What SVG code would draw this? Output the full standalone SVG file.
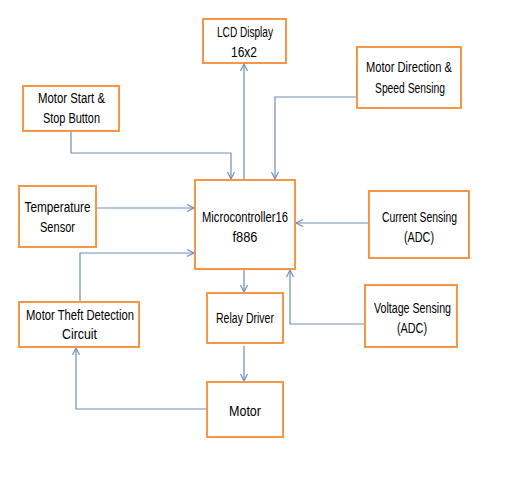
<svg xmlns="http://www.w3.org/2000/svg" width="508" height="477" viewBox="0 0 508 477">
<style>
.box{fill:#fff;stroke:#F79646;stroke-width:2}
.t{font-family:"Liberation Sans",Arial,sans-serif;font-size:14px;fill:#000;text-anchor:middle}
.c{fill:none;stroke:#6C8EBF;stroke-width:1.2}
</style>
<defs>
<marker id="a" markerWidth="10" markerHeight="10" refX="8" refY="4" orient="auto" markerUnits="userSpaceOnUse">
<path d="M1,0.5 L8,4 L1,7.5" fill="none" stroke="#6C8EBF" stroke-width="1.2"/>
</marker>
</defs>
<rect width="508" height="477" fill="#fff"/>
<g id="connectors">
<path class="c" d="M244,180 V64" marker-end="url(#a)"/>
<path class="c" d="M71,131 V153 H231 V179" marker-end="url(#a)"/>
<path class="c" d="M357,97 H275 V179" marker-end="url(#a)"/>
<path class="c" d="M96,208 H194" marker-end="url(#a)"/>
<path class="c" d="M369,223 H296" marker-end="url(#a)"/>
<path class="c" d="M80,302 V253 H194" marker-end="url(#a)"/>
<path class="c" d="M244,269 V292" marker-end="url(#a)"/>
<path class="c" d="M244,346 V381" marker-end="url(#a)"/>
<path class="c" d="M207,409 H76 V348" marker-end="url(#a)"/>
<path class="c" d="M365,324 H290 V270" marker-end="url(#a)"/>
</g>
<g id="lcd"><rect class="box" x="203" y="19" width="83" height="44"/><text class="t" x="245" y="37" textLength="56" lengthAdjust="spacingAndGlyphs">LCD Display</text><text class="t" x="244" y="57" textLength="26" lengthAdjust="spacingAndGlyphs">16x2</text></g>
<g id="motor-direction"><rect class="box" x="357" y="47" width="104" height="61"/><text class="t" x="409" y="72" textLength="86" lengthAdjust="spacingAndGlyphs">Motor Direction &amp;</text><text class="t" x="410" y="93" textLength="70" lengthAdjust="spacingAndGlyphs">Speed Sensing</text></g>
<g id="motor-start"><rect class="box" x="23" y="86" width="96" height="45"/><text class="t" x="71.5" y="103" textLength="67" lengthAdjust="spacingAndGlyphs">Motor Start &amp;</text><text class="t" x="71.5" y="123" textLength="57" lengthAdjust="spacingAndGlyphs">Stop Button</text></g>
<g id="temperature"><rect class="box" x="19" y="186" width="77" height="61"/><text class="t" x="57.5" y="212" textLength="66" lengthAdjust="spacingAndGlyphs">Temperature</text><text class="t" x="57.5" y="232" textLength="35" lengthAdjust="spacingAndGlyphs">Sensor</text></g>
<g id="micro"><rect class="box" x="195" y="180" width="100" height="89"/><text class="t" x="245" y="222" textLength="86" lengthAdjust="spacingAndGlyphs">Microcontroller16</text><text class="t" x="245" y="242" textLength="25" lengthAdjust="spacingAndGlyphs">f886</text></g>
<g id="current"><rect class="box" x="369" y="191" width="100" height="67"/><text class="t" x="419.5" y="222" textLength="75" lengthAdjust="spacingAndGlyphs">Current Sensing</text><text class="t" x="419" y="242" textLength="30" lengthAdjust="spacingAndGlyphs">(ADC)</text></g>
<g id="theft"><rect class="box" x="19" y="302" width="120" height="45"/><text class="t" x="80" y="320" textLength="108" lengthAdjust="spacingAndGlyphs">Motor Theft Detection</text><text class="t" x="79.5" y="339" textLength="35" lengthAdjust="spacingAndGlyphs">Circuit</text></g>
<g id="relay"><rect class="box" x="207" y="293" width="76" height="50"/><text class="t" x="245" y="323" textLength="58" lengthAdjust="spacingAndGlyphs">Relay Driver</text></g>
<g id="voltage"><rect class="box" x="365" y="285" width="92" height="62"/><text class="t" x="412.5" y="313" textLength="77" lengthAdjust="spacingAndGlyphs">Voltage Sensing</text><text class="t" x="412" y="333" textLength="30" lengthAdjust="spacingAndGlyphs">(ADC)</text></g>
<g id="motor"><rect class="box" x="207" y="382" width="76" height="55"/><text class="t" x="245" y="416" textLength="32" lengthAdjust="spacingAndGlyphs">Motor</text></g>
</svg>
